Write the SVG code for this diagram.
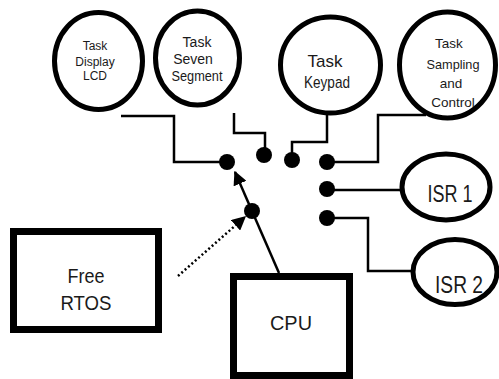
<svg xmlns="http://www.w3.org/2000/svg" width="499" height="379" viewBox="0 0 499 379">
<defs>
<style>
.node{fill:#fff;stroke:#000;stroke-width:5}
.box{fill:#fff;stroke:#000;stroke-width:7}
.wire{fill:none;stroke:#000;stroke-width:2.5}
.dot{fill:#000}
text{font-family:"Liberation Sans",Arial,sans-serif;fill:#1a1a1a;text-anchor:middle}
</style>
<marker id="ah" viewBox="0 0 10 10" refX="9" refY="5" markerWidth="14" markerHeight="14" markerUnits="userSpaceOnUse" orient="auto">
<path d="M0,0 L10,5 L0,10 z" fill="#000"/>
</marker>
</defs>
<rect width="499" height="379" fill="#fff"/>
<g id="connectors">
<polyline class="wire" points="121,116 174,116 174,162 227,162"/>
<polyline class="wire" points="234,113 234,133 265,133 265,155"/>
<polyline class="wire" points="327,115 327,142 292,142 292,160"/>
<polyline class="wire" points="426,115 378,115 378,162 327,162"/>
<polyline class="wire" points="327,190 401,190"/>
<polyline class="wire" points="327,218 368,218 368,271 413,271"/>
<line class="wire" x1="279" y1="273" x2="235" y2="172" marker-end="url(#ah)"/>
<line x1="178" y1="276" x2="245" y2="217" stroke="#000" stroke-width="2.5" stroke-dasharray="2,2.5" marker-end="url(#ah)"/>
<circle class="dot" cx="227" cy="162" r="8"/>
<circle class="dot" cx="264" cy="155" r="8"/>
<circle class="dot" cx="292" cy="160" r="8"/>
<circle class="dot" cx="327" cy="162" r="8"/>
<circle class="dot" cx="327" cy="189" r="8"/>
<circle class="dot" cx="327" cy="218" r="8"/>
<circle class="dot" cx="252" cy="211" r="8"/>
</g>
<g id="task-lcd">
<ellipse class="node" cx="98.5" cy="61" rx="44" ry="48.5"/>
<text x="95" y="50" font-size="12">Task</text>
<text x="95" y="65.5" font-size="12">Display</text>
<text x="95" y="79.5" font-size="12">LCD</text>
</g>
<g id="task-seven">
<ellipse class="node" cx="197.5" cy="58" rx="42" ry="47"/>
<text x="197" y="47" font-size="14">Task</text>
<text x="193" y="64" font-size="14">Seven</text>
<text x="197" y="81" font-size="14" textLength="51" lengthAdjust="spacingAndGlyphs">Segment</text>
</g>
<g id="task-keypad">
<ellipse class="node" cx="330.5" cy="65" rx="50" ry="48"/>
<text x="325" y="67" font-size="17">Task</text>
<text x="327" y="88" font-size="17" textLength="46" lengthAdjust="spacingAndGlyphs">Keypad</text>
</g>
<g id="task-sampling">
<ellipse class="node" cx="447.5" cy="65" rx="48" ry="53"/>
<text x="449" y="48" font-size="13.5">Task</text>
<text x="453" y="69" font-size="13.5" textLength="53" lengthAdjust="spacingAndGlyphs">Sampling</text>
<text x="451" y="88" font-size="13.5">and</text>
<text x="453" y="107" font-size="13.5">Control</text>
</g>
<g id="isr1">
<ellipse class="node" cx="446" cy="187" rx="44" ry="33"/>
<text x="450" y="202" font-size="24" textLength="45" lengthAdjust="spacingAndGlyphs">ISR 1</text>
</g>
<g id="isr2">
<ellipse class="node" cx="455" cy="272" rx="42" ry="32.5"/>
<text x="459" y="293" font-size="24" textLength="48" lengthAdjust="spacingAndGlyphs">ISR 2</text>
</g>
<g id="freertos">
<rect class="box" x="13.5" y="231.5" width="145" height="98"/>
<text x="86" y="283" font-size="21" textLength="37" lengthAdjust="spacingAndGlyphs">Free</text>
<text x="86" y="310" font-size="21" textLength="51" lengthAdjust="spacingAndGlyphs">RTOS</text>
</g>
<g id="cpu">
<rect class="box" x="233.5" y="276.5" width="116" height="99"/>
<text x="291" y="330" font-size="21" textLength="42" lengthAdjust="spacingAndGlyphs">CPU</text>
</g>
</svg>
